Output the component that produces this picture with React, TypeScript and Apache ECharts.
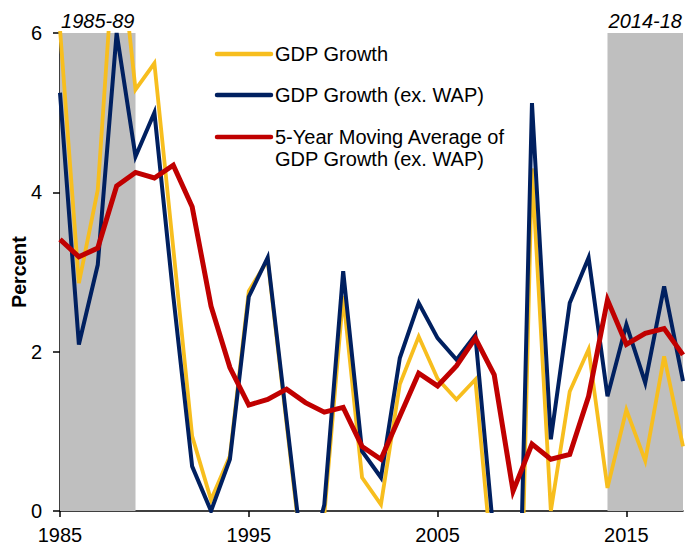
import React, { useEffect, useRef } from "react";
import * as echarts from "echarts";

const years = [
  "1985", "1986", "1987", "1988", "1989", "1990", "1991", "1992", "1993", "1994",
  "1995", "1996", "1997", "1998", "1999", "2000", "2001", "2002", "2003", "2004",
  "2005", "2006", "2007", "2008", "2009", "2010", "2011", "2012", "2013", "2014",
  "2015", "2016", "2017", "2018",
];

const gdpGrowth = [
  6.05, 2.86, 4.03, 7.5, 5.29, 5.62, 3.3, 0.94, 0.14, 0.69,
  2.76, 3.15, 1.1, -0.95, -0.05, 2.7, 0.42, 0.08, 1.59, 2.19,
  1.66, 1.4, 1.65, -0.95, -5.5, 4.3, 0.0, 1.5, 2.03, 0.29,
  1.27, 0.63, 1.94, 0.81,
];

const gdpGrowthExWap = [
  5.25, 2.09, 3.09, 6.0, 4.45, 5.0, 2.7, 0.56, 0.0, 0.65,
  2.69, 3.18, 1.15, -0.88, 0.08, 3.01, 0.75, 0.42, 1.92, 2.61,
  2.17, 1.9, 2.21, -0.38, -4.7, 5.12, 0.9, 2.61, 3.18, 1.44,
  2.34, 1.61, 2.82, 1.63,
];

const movingAverage = [
  3.41, 3.19, 3.3, 4.08, 4.25, 4.18, 4.34, 3.82, 2.57, 1.8,
  1.33, 1.4, 1.53, 1.36, 1.24, 1.3, 0.81, 0.65, 1.19, 1.73,
  1.57, 1.82, 2.17, 1.71, 0.25, 0.84, 0.65, 0.71, 1.44, 2.65,
  2.09, 2.23, 2.29, 1.96,
];

const shadedPeriods = [
  { from: "1985", to: "1989", label: "1985-89" },
  { from: "2014", to: "2018", label: "2014-18" },
];

const seriesNames = [
  "GDP Growth",
  "GDP Growth (ex. WAP)",
  "5-Year Moving Average of\nGDP Growth (ex. WAP)",
];
const seriesColors = ["#F7BE1E", "#002060", "#C00000"];

const FONT = "'Liberation Sans', Arial, sans-serif";

export default function App() {
  const ref = useRef<HTMLDivElement>(null);

  useEffect(() => {
    if (!ref.current) return;
    const chart = echarts.init(ref.current, undefined, { renderer: "svg" });

    const legendX = 217;
    const legendLineLen = 54;
    const legendRows = [54, 95, 137];
    const legendGraphics: any[] = [];
    seriesNames.forEach((name, i) => {
      legendGraphics.push({
        type: "line",
        shape: {
          x1: legendX,
          y1: legendRows[i],
          x2: legendX + legendLineLen,
          y2: legendRows[i],
        },
        style: { stroke: seriesColors[i], lineWidth: 4.5, lineCap: "round" },
      });
      legendGraphics.push({
        type: "text",
        x: legendX + legendLineLen + 4,
        y: legendRows[i] - 10.8,
        style: {
          text: name,
          font: `20px ${FONT}`,
          fill: "#000",
          textVerticalAlign: "top",
          verticalAlign: "top",
          lineHeight: 21.6,
        },
      });
    });

    const option: any = {
      animation: false,
      backgroundColor: "#fff",
      grid: { left: 60, right: 3, top: 33, bottom: 37, containLabel: false },
      xAxis: {
        type: "category",
        data: years,
        boundaryGap: false,
        axisLine: { lineStyle: { color: "#000", width: 1.5 } },
        axisTick: {
          show: true,
          length: 6,
          interval: (idx: number) => idx % 10 === 0,
          lineStyle: { color: "#000", width: 1.5 },
        },
        axisLabel: {
          interval: (idx: number) => idx % 10 === 0,
          color: "#000",
          fontSize: 20,
          fontFamily: FONT,
          margin: 14,
        },
        splitLine: { show: false },
      },
      yAxis: {
        type: "value",
        min: 0,
        max: 6,
        interval: 2,
        axisLine: { show: true, lineStyle: { color: "#000", width: 1.5 } },
        axisTick: { show: true, length: 7, lineStyle: { color: "#000", width: 1.5 } },
        axisLabel: { color: "#000", fontSize: 20, fontFamily: FONT, margin: 18 },
        splitLine: { show: false },
      },
      graphic: [
        {
          type: "text",
          x: 18.5,
          y: 272,
          rotation: Math.PI / 2,
          style: {
            text: "Percent",
            font: `bold 19.5px ${FONT}`,
            fill: "#000",
            align: "center",
            verticalAlign: "middle",
          },
        },
        ...legendGraphics,
      ],
      series: [
        {
          name: seriesNames[0],
          type: "line",
          data: gdpGrowth,
          showSymbol: false,
          clip: true,
          lineStyle: { color: seriesColors[0], width: 3.8, join: "miter", miterLimit: 4 },
          itemStyle: { color: seriesColors[0] },
          z: 2,
          markArea: {
            silent: true,
            itemStyle: { color: "#BFBFBF" },
            label: {
              show: true,
              position: "top",
              distance: 2,
              fontStyle: "italic",
              fontSize: 20,
              fontFamily: FONT,
              color: "#000",
            },
            data: shadedPeriods.map((p) => [
              { xAxis: p.from, name: p.label },
              { xAxis: p.to },
            ]),
          },
        },
        {
          name: seriesNames[1],
          type: "line",
          data: gdpGrowthExWap,
          showSymbol: false,
          clip: true,
          lineStyle: { color: seriesColors[1], width: 4, join: "miter", miterLimit: 4 },
          itemStyle: { color: seriesColors[1] },
          z: 3,
        },
        {
          name: seriesNames[2],
          type: "line",
          data: movingAverage,
          showSymbol: false,
          clip: true,
          lineStyle: { color: seriesColors[2], width: 5, join: "miter", miterLimit: 4 },
          itemStyle: { color: seriesColors[2] },
          z: 4,
        },
      ],
    };

    chart.setOption(option);
    return () => chart.dispose();
  }, []);

  return (
    <div
      ref={ref}
      style={{ position: "fixed", left: 0, top: 0, width: 686, height: 548 }}
    />
  );
}
